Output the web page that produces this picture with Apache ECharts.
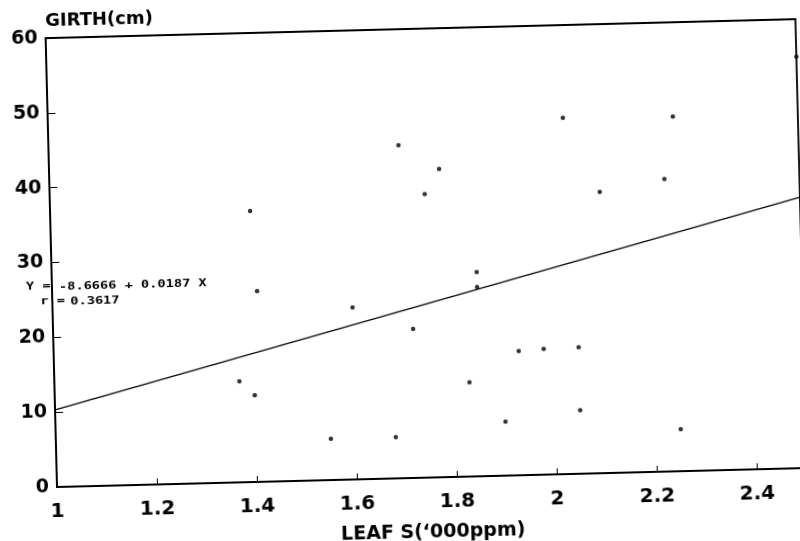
<!DOCTYPE html>
<html>
<head>
<meta charset="utf-8">
<title>Girth vs leaf S</title>
<script src="https://cdn.jsdelivr.net/npm/echarts@6/dist/echarts.min.js"></script>
<style>
  html, body { margin: 0; padding: 0; width: 800px; height: 541px; overflow: hidden; background: #fff; }
  /* the plotted sheet sits slightly askew on the page */
  #chart { position: absolute; left: 0; top: 0; width: 830px; height: 560px;
           transform: rotate(-1.45deg); transform-origin: 57px 487px; }
</style>
</head>
<body>
<div id="chart"></div>
<script>
// Leaf sulphur ('000 ppm) and trunk girth (cm) for each tree
const leafS = [1.40, 1.70, 2.03, 2.25, 1.78, 1.75, 2.10, 2.23, 1.41, 1.60, 1.37, 1.40,
               1.55, 1.68, 1.85, 1.85, 1.72, 1.93, 1.98, 2.05, 1.83, 1.90, 2.05, 2.25, 2.50];
const girth = [36.2, 44.5, 47.6, 47.4, 41.2, 37.9, 37.6, 39.1, 25.5, 23.0, 13.5, 11.6,
               5.5, 5.5, 27.3, 25.3, 19.9, 16.6, 16.8, 16.9, 12.6, 7.2, 8.5, 5.6, 55.0];

// Fitted regression line end points
const fitX = [1.0, 2.5];
const fitY = [10.3, 36.2];

// Axis tick values
const xTicks = [1, 1.2, 1.4, 1.6, 1.8, 2, 2.2, 2.4];
const xMax = 2.5;
const yTicks = [0, 10, 20, 30, 40, 50, 60];

// Regression summary
const eqLead = 'Y =';
const eqBody = '-8.6666 + 0.0187 X';
const rLead = 'r =';
const rValue = '0.3617';

const points = leafS.map((x, i) => [x, girth[i]]);
const fitLine = fitX.map((x, i) => [x, fitY[i]]);

const FONT = '"DejaVu Sans", "Liberation Sans", sans-serif';
const MONO = 'bold 11px "DejaVu Sans Mono", monospace';

const chart = echarts.init(document.getElementById('chart'), null, { renderer: 'canvas' });

const eqText = (txt, x, y) => ({
  type: 'text', x: x, y: y, scaleX: 1.24, z: 100,
  style: { text: txt, x: 0, y: 0, font: MONO, fill: '#000', verticalAlign: 'middle', align: 'left' }
});

chart.setOption({
  animation: false,
  backgroundColor: '#fff',
  grid: {
    left: 57, top: 38, width: 750, height: 449,
    outerBoundsMode: 'none',
    containLabel: false,
    show: true, borderColor: '#000', borderWidth: 1.8, backgroundColor: 'transparent'
  },
  xAxis: {
    type: 'value',
    min: xTicks[0], max: xMax,
    interval: +(xTicks[1] - xTicks[0]).toFixed(2),
    name: 'LEAF S(\u2018000ppm)',
    nameLocation: 'middle',
    nameGap: 55,
    nameTextStyle: { fontFamily: FONT, fontWeight: 'bold', fontSize: 19, color: '#000', verticalAlign: 'middle' },
    axisLine: { show: true, lineStyle: { color: '#000', width: 1.8 } },
    axisTick: { show: true, inside: true, length: 6, lineStyle: { color: '#000', width: 1 } },
    axisLabel: { fontFamily: FONT, fontWeight: 'bold', fontSize: 20, color: '#000', margin: 15, showMaxLabel: false },
    splitLine: { show: false }
  },
  yAxis: {
    type: 'value',
    min: yTicks[0], max: yTicks[yTicks.length - 1],
    interval: yTicks[1] - yTicks[0],
    name: 'GIRTH(cm)',
    nameLocation: 'end',
    nameGap: 17,
    nameTextStyle: { fontFamily: FONT, fontWeight: 'bold', fontSize: 18, color: '#000', align: 'left', verticalAlign: 'middle' },
    axisLine: { show: true, lineStyle: { color: '#000', width: 1.8 } },
    axisTick: { show: true, inside: true, length: 8, lineStyle: { color: '#000', width: 1 } },
    axisLabel: { fontFamily: FONT, fontWeight: 'bold', fontSize: 19, color: '#000', margin: 8 },
    splitLine: { show: false }
  },
  series: [
    {
      name: 'fit',
      type: 'line',
      data: fitLine,
      symbol: 'none',
      lineStyle: { color: '#000', width: 1.2 },
      silent: true,
      z: 2
    },
    {
      name: 'trees',
      type: 'scatter',
      data: points,
      symbol: 'circle',
      symbolSize: 4.5,
      clip: false,
      itemStyle: { color: '#000' },
      z: 3
    }
  ],
  graphic: [
    eqText(eqLead, 31, 286),
    eqText(eqBody, 64, 287),
    eqText(rLead, 45, 301.6),
    eqText(rValue, 75, 302.3)
  ]
});
</script>
</body>
</html>
